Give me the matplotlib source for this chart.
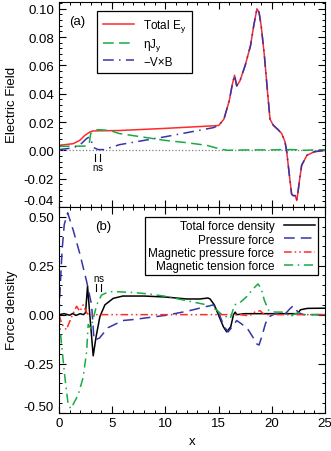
import numpy as np
import matplotlib
matplotlib.use("Agg")
import matplotlib.pyplot as plt
from matplotlib.ticker import MultipleLocator, FormatStrFormatter

plt.rcParams['font.family'] = ['Liberation Sans', 'DejaVu Sans']
plt.rcParams['mathtext.fontset'] = 'custom'
plt.rcParams['mathtext.rm'] = 'Liberation Sans'
plt.rcParams['mathtext.it'] = 'Liberation Sans'

# ---- panel (a): electric field ----
ey_x = [0, 1.35, 1.97, 2.44, 2.9, 3.23, 5.7, 10, 15, 15.5, 16.0, 16.3, 16.5, 16.7, 17.0,
        17.5, 18.0, 18.3, 18.6, 18.8, 19.0, 19.3, 19.6, 19.83, 20.14, 20.6, 20.93, 21.24,
        21.4, 21.65, 21.86, 22.0, 22.2, 22.34, 22.45, 22.59, 22.8, 23.3, 24.0, 25]
ey_y = [0.0035, 0.0047, 0.0071, 0.0106, 0.0129, 0.0137, 0.014, 0.0155, 0.0175, 0.022,
        0.035, 0.047, 0.053, 0.0455, 0.049, 0.060, 0.074, 0.088, 0.100, 0.0975, 0.088,
        0.067, 0.041, 0.022, 0.0177, 0.0145, 0.0118, 0.006, -0.001, -0.0176, -0.031,
        -0.032, -0.032, -0.0355, -0.030, -0.022, -0.0106, -0.0035, -0.001, 0.0]

vxb_x = [0, 1.35, 2.1, 2.6, 2.85, 3.07, 3.23, 3.7, 4.2, 5.2, 5.7, 10, 14.5, 15, 15.5, 16.0,
         16.3, 16.5, 16.7, 17.0, 17.5, 18.0, 18.3, 18.6, 18.8, 19.0, 19.3, 19.6, 19.83,
         20.14, 20.6, 20.93, 21.24, 21.4, 21.65, 21.86, 22.0, 22.2, 22.34, 22.45, 22.59,
         22.8, 23.3, 24.0, 25]
vxb_y = [0.0005, 0.0017, 0.0047, 0.0083, 0.0094, 0.006, 0.002, 0.0005, 0.0005, 0.0028,
         0.004, 0.0096, 0.016, 0.0175, 0.022, 0.035, 0.047, 0.053, 0.0455, 0.049, 0.060,
         0.074, 0.088, 0.100, 0.0975, 0.088, 0.067, 0.041, 0.022, 0.0177, 0.0145, 0.0118,
         0.006, -0.001, -0.0176, -0.031, -0.032, -0.032, -0.0355, -0.030, -0.022, -0.0106,
         -0.0035, -0.001, 0.0]

eta_x = [0, 2.6, 2.85, 2.98, 3.23, 3.7, 4.8, 5.2, 5.7, 10, 12, 13.9, 15, 15.8, 18, 20, 21,
         22, 23, 25]
eta_y = [0.0028, 0.003, 0.0047, 0.0118, 0.0137, 0.0146, 0.014, 0.013, 0.0118, 0.007,
         0.0054, 0.0035, 0.0012, 0.0, 0.0003, 0.0003, 0.0005, 0.0005, 0.0, 0.0005]

# ---- panel (b): force density ----
tot_x = [0, 0.5, 1.0, 1.3, 1.6, 2.0, 2.3, 2.5, 2.69, 2.9, 3.22, 3.5, 3.85, 4.32, 5.1, 6.0,
         8.0, 10, 12, 13.25, 14.0, 14.2, 14.6, 15.13, 15.45, 15.76, 16.14, 16.4, 16.56,
         16.7, 17.5, 20, 22.4, 22.7, 23.35, 25]
tot_y = [0.0, 0.005, -0.003, 0.006, -0.004, 0.005, 0.0, 0.01, 0.145, 0.0, -0.21, -0.11,
         -0.01, 0.05, 0.083, 0.095, 0.095, 0.09, 0.08, 0.08, 0.085, 0.08, 0.05, -0.02,
         -0.062, -0.088, -0.062, 0.0, 0.013, 0.0, 0.005, 0.005, 0.005, 0.025, 0.032, 0.033]

pr_x = [0, 0.1, 0.3, 0.5, 0.82, 1.35, 1.97, 2.6, 3.07, 3.3, 3.8, 4.6, 6.0, 7.0, 10.1, 12,
        13.9, 14.5, 14.8, 15.1, 15.5, 15.9, 16.3, 16.7, 17.1, 17.7, 18.2, 18.6, 18.8, 19.1,
        19.4, 19.7, 20.3, 21.2, 21.7, 22.0, 22.5, 23, 25]
pr_y = [0.0, 0.12, 0.33, 0.46, 0.52, 0.43, 0.31, 0.17, 0.05, -0.13, -0.12, -0.067, -0.03,
        -0.025, -0.003, 0.017, 0.042, 0.05, 0.03, -0.003, -0.06, -0.088, -0.06, -0.03,
        -0.045, -0.07, -0.113, -0.15, -0.155, -0.105, -0.046, -0.012, 0.005, 0.0, 0.03,
        0.045, 0.01, 0.0, 0.0]

mp_x = [0, 0.3, 0.7, 1.2, 1.66, 1.97, 2.28, 2.6, 2.8, 5, 10, 15, 16, 17.0, 17.9, 18.4,
        18.9, 19.3, 20, 25]
mp_y = [0.0, -0.05, -0.077, -0.01, 0.043, 0.017, 0.05, 0.01, 0.0, 0.0, 0.0, 0.0, 0.0,
        0.0, -0.006, 0.013, 0.02, 0.0, 0.0, 0.0]

mt_x = [0, 0.25, 0.56, 0.87, 1.13, 1.8, 2.28, 2.6, 2.75, 3.0, 3.55, 4.0, 4.6, 5.1, 7.0,
        8.55, 10.1, 12, 13.9, 14.8, 15.3, 16.1, 16.5, 17.0, 17.6, 18.25, 18.7, 19.0, 19.3,
        19.7, 20.3, 21.2, 21.7, 22.0, 22.5, 23, 25]
mt_y = [0.0, -0.154, -0.32, -0.46, -0.48, -0.41, -0.32, -0.19, -0.05, -0.07, 0.05, 0.1,
        0.115, 0.118, 0.113, 0.105, 0.093, 0.071, 0.05, 0.025, 0.0, -0.02, 0.05, 0.061,
        0.09, 0.132, 0.157, 0.132, 0.073, 0.022, 0.013, 0.013, -0.012, 0.0, 0.01, 0.0, 0.0]

ns_top = [3.4, 3.9]
ns_bot = [3.45, 3.95]

red = '#ff2a2a'
green = '#1aaa44'
blue = '#3535a8'

fig = plt.figure(figsize=(3.31, 4.52), dpi=100)
ax1 = fig.add_axes([0.178, 0.540, 0.804, 0.454])
ax2 = fig.add_axes([0.178, 0.085, 0.804, 0.455])

fs = 9.5
for ax in (ax1, ax2):
    ax.set_xlim(0, 25)
    ax.xaxis.set_major_locator(MultipleLocator(5))
    ax.xaxis.set_minor_locator(MultipleLocator(1))
    ax.tick_params(which='both', direction='in', top=True, right=True, labelsize=fs)
    ax.tick_params(which='major', length=5, width=0.8)
    ax.tick_params(which='minor', length=2.5, width=0.7)

# panel a
ax1.axhline(0, color='gray', ls=':', lw=0.9)
ax1.plot(ey_x, ey_y, color=red, lw=1.1, label='Total E$_y$')
ax1.plot(eta_x, eta_y, color=green, lw=1.1, dashes=(7, 3.5), label=r'$\eta$J$_y$')
ax1.plot(vxb_x, vxb_y, color=blue, lw=1.1, dashes=(7, 3.5, 1, 3.5), label='\u2212V\u00d7B')
ax1.set_ylim(-0.04, 0.105)
ax1.yaxis.set_major_locator(MultipleLocator(0.02))
ax1.yaxis.set_minor_locator(MultipleLocator(0.004))
ax1.yaxis.set_major_formatter(FormatStrFormatter('%.2f'))
ax1.tick_params(labelbottom=False)
ax1.set_ylabel('Electric Field', fontsize=fs)
ax1.text(0.07, 0.905, '(a)', transform=ax1.transAxes, fontsize=fs, ha='center', va='center')
for xv in ns_top:
    ax1.plot([xv, xv], [-0.0025, -0.0075], color='black', lw=0.8)
ax1.text(ns_top[0], -0.0115, 'n', fontsize=7, ha='center', va='center')
ax1.text(ns_top[1], -0.0115, 's', fontsize=7, ha='center', va='center')
leg1 = ax1.legend(loc='upper left', bbox_to_anchor=(0.143, 0.955), fontsize=8.5,
                  frameon=True, fancybox=False, framealpha=1, edgecolor='black',
                  handlelength=2.6, borderpad=0.5, labelspacing=0.2, borderaxespad=0)
leg1.get_frame().set_linewidth(0.9)

# panel b
ax2.plot(tot_x, tot_y, color='black', lw=1.1, label='Total force density')
ax2.plot(pr_x, pr_y, color=blue, lw=1.1, dashes=(7, 4), label='Pressure force')
ax2.plot(mp_x, mp_y, color=red, lw=1.1, dashes=(5, 2, 1, 2, 1, 2), label='Magnetic pressure force')
ax2.plot(mt_x, mt_y, color=green, lw=1.1, dashes=(6, 3, 1, 3), label='Magnetic tension force')
ax2.set_ylim(-0.5, 0.55)
ax2.yaxis.set_major_locator(MultipleLocator(0.25))
ax2.yaxis.set_minor_locator(MultipleLocator(0.05))
ax2.yaxis.set_major_formatter(FormatStrFormatter('%.2f'))
ax2.set_ylabel('Force density', fontsize=fs)
ax2.set_xlabel('x', fontsize=fs)
ax2.text(0.167, 0.905, '(b)', transform=ax2.transAxes, fontsize=fs, ha='center', va='center')
for xv in ns_bot:
    ax2.plot([xv, xv], [0.12, 0.155], color='black', lw=0.8)
ax2.text(ns_bot[0], 0.185, 'n', fontsize=7, ha='center', va='center')
ax2.text(ns_bot[1], 0.185, 's', fontsize=7, ha='center', va='center')
leg2 = ax2.legend(loc='upper right', bbox_to_anchor=(0.974, 0.952), fontsize=8.5,
                  frameon=True, fancybox=False, framealpha=1, edgecolor='black',
                  markerfirst=False, handlelength=2.6, borderpad=0.3, labelspacing=0.1,
                  borderaxespad=0)
leg2.get_frame().set_linewidth(0.9)

fig.align_ylabels([ax1, ax2])
fig.canvas.draw()
# keep the -0.04 and -0.50 labels clear of the neighbouring labels
for lab in ax1.get_yticklabels():
    if lab.get_text() == '-0.04':
        lab.set_va('bottom')
for lab in ax2.get_yticklabels():
    if lab.get_text() == '-0.50':
        lab.set_va('bottom')
fig.savefig('out.png', dpi=100)
